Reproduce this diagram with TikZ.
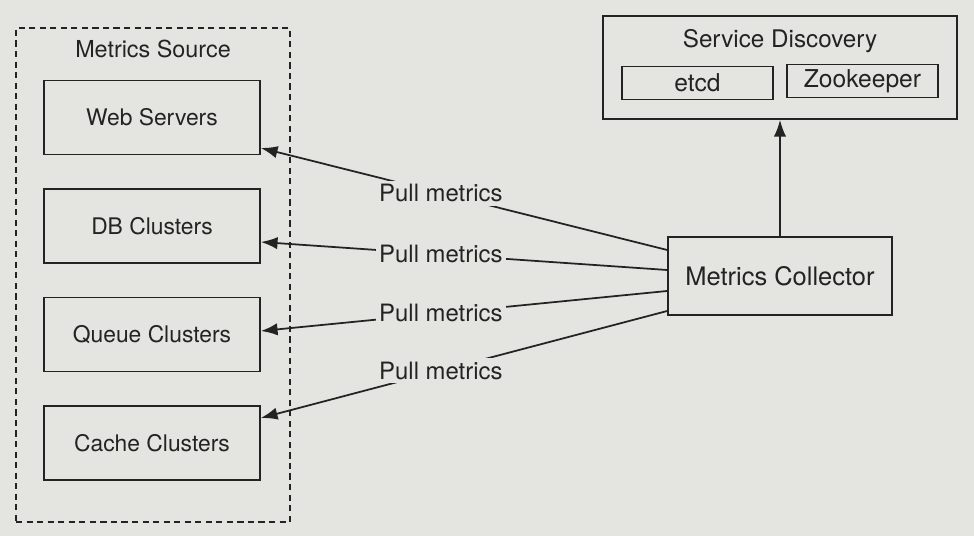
\documentclass[tikz,border=0pt]{standalone}
\usepackage{fontspec}
\setmainfont{TeX Gyre Heros}
\usetikzlibrary{arrows.meta}
\definecolor{paper}{RGB}{228,228,224}
\definecolor{ink}{RGB}{35,35,35}
\newcommand{\srcw}{4.32cm}
\newcommand{\srch}{1.48cm}
\newcommand{\plpos}{0.557}
\newcommand{\fs}[1]{\fontsize{#1}{#1}\selectfont}

\begin{document}
\begin{tikzpicture}[
      x=0.02cm, y=-0.02cm, %one unit is one pixel of the picture
      line/.style={draw=ink, line width=1pt},
      txt/.style={text=ink, font=\fs{13}},
      src/.style={line, txt, minimum width=\srcw, minimum height=\srch},
      small/.style={line, txt, font=\fs{14}, minimum width=3.02cm, minimum height=0.66cm, inner sep=0pt},
      group/.style={draw=ink, line width=0.9pt, dash pattern=on 3.5pt off 2.5pt},
      pull/.style={line, -{Latex[length=9.5pt,width=7pt]}},
      plabel/.style={txt, font=\fs{13.6}, fill=paper, inner sep=2pt}
    ]
    \fill[paper] (0,0) rectangle (974,536);
    \useasboundingbox (0,0) rectangle (974,536);
    % Metrics sources
    \node[group, minimum width=5.48cm, minimum height=9.88cm] (ms) at (153,275) {};
    \node[txt, font=\fs{13.3}] (mstitle) at (153,49) {Metrics Source};
    \node[src] (web) at (152,117.5) {Web Servers};
    \node[src] (db) at (152,226) {DB Clusters};
    \node[src] (queue) at (152,334.5) {Queue Clusters};
    \node[src] (cache) at (152,443) {Cache Clusters};
    % Service discovery
    \node[line, minimum width=7.08cm, minimum height=2.06cm] (sd) at (780,67.5) {};
    \node[txt, font=\fs{13.8}] (sdtitle) at (780,41) {Service Discovery};
    \node[small] (etcd) at (697.5,83) {etcd};
    \node[small] (zk) at (862.5,81) {Zookeeper};
    % Collector
    \node[src, font=\fs{14.5}, minimum width=4.48cm, minimum height=1.56cm] (mc) at (780,276) {Metrics Collector};
    \draw[pull] (mc.north) -- (sd.south);
    % Pull lines
    \draw[pull] ([yshift=0.52cm]mc.west) -- node[plabel, pos=\plpos] (pl1) {Pull metrics} ([yshift=-0.61cm]web.east);
    \draw[pull] ([yshift=0.12cm]mc.west) -- node[plabel, pos=\plpos] (pl2) {Pull metrics} ([yshift=-0.32cm]db.east);
    \draw[pull] ([yshift=-0.30cm]mc.west) -- node[plabel, pos=\plpos] (pl3) {Pull metrics} ([yshift=0.07cm]queue.east);
    \draw[pull] ([yshift=-0.70cm]mc.west) -- node[plabel, pos=\plpos] (pl4) {Pull metrics} ([yshift=0.50cm]cache.east);
\end{tikzpicture}
\end{document}
